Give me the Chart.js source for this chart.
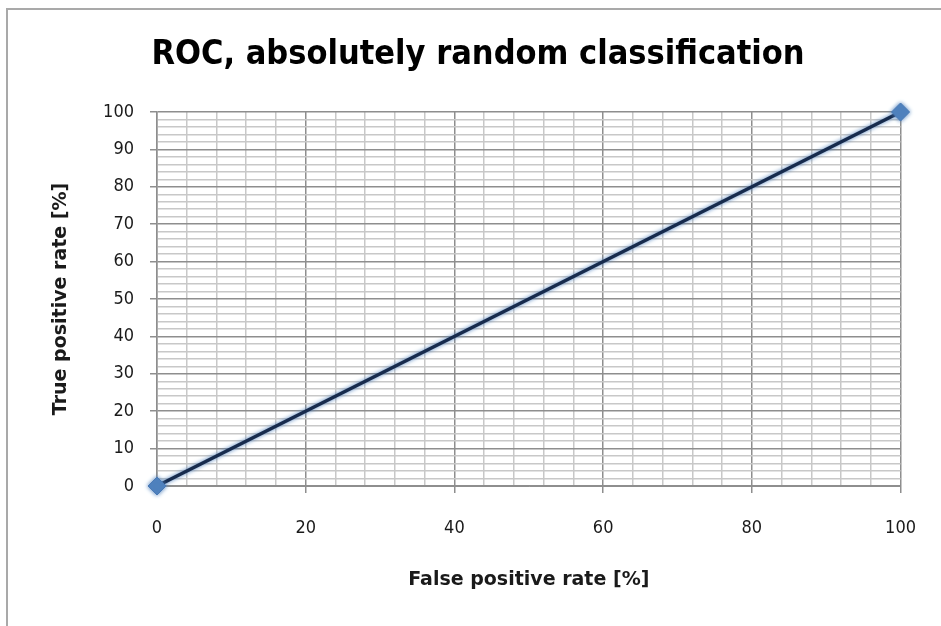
<!DOCTYPE html>
<html>
<head>
<meta charset="utf-8">
<title>ROC, absolutely random classification</title>
<script src="https://cdn.jsdelivr.net/npm/chart.js@4/dist/chart.umd.min.js"></script>
<style>
  html, body { margin: 0; padding: 0; background: #ffffff; }
  #wrap { position: relative; width: 941px; height: 626px; }
</style>
</head>
<body>
<div id="wrap"><canvas id="roc" width="941" height="626"></canvas></div>
<script>
// ROC curve of a classifier that guesses at random: the diagonal
const chartTitle = 'ROC, absolutely random classification';
const xAxisTitle = 'False positive rate [%]';
const yAxisTitle = 'True positive rate [%]';
const falsePositiveRate = [0, 100];
const truePositiveRate = [0, 100];
const xMajorStep = 20;   // labelled x ticks
const xMinorStep = 4;    // x grid lines
const yMajorStep = 10;   // labelled y ticks
const yMinorStep = 2;    // y grid lines

const points = falsePositiveRate.map((fpr, i) => ({ x: fpr, y: truePositiveRate[i] }));

const MAJOR = '#8e8e8e';
const MINOR = '#c8c8c8';
const TEXT = '#1a1a1a';
const CONDENSED = '"DejaVu Sans Condensed", "DejaVu Sans", sans-serif';
const WIDE = '"DejaVu Sans", sans-serif';

// frame of the chart object plus the title text
const framePlugin = {
  id: 'frame',
  beforeDraw(chart) {
    const ctx = chart.ctx;
    ctx.save();
    ctx.fillStyle = '#ffffff';
    ctx.fillRect(0, 0, chart.width, chart.height);
    ctx.strokeStyle = '#a9a9a9';
    ctx.lineWidth = 2;
    ctx.beginPath();
    ctx.moveTo(7, chart.height);
    ctx.lineTo(7, 9);
    ctx.lineTo(chart.width, 9);
    ctx.stroke();
    ctx.fillStyle = '#000000';
    ctx.font = 'bold 34px ' + CONDENSED;
    ctx.textAlign = 'center';
    ctx.textBaseline = 'middle';
    ctx.fillText(chartTitle, 478, 55);
    ctx.restore();
  }
};

// soft blue halo around the dark series line
const glowPlugin = {
  id: 'glow',
  beforeDatasetDraw(chart) {
    chart.ctx.save();
    chart.ctx.shadowColor = 'rgba(79,129,189,1)';
    chart.ctx.shadowBlur = 4;
  },
  afterDatasetDraw(chart) {
    chart.ctx.restore();
  }
};

new Chart(document.getElementById('roc'), {
  type: 'scatter',
  data: {
    datasets: [{
      data: points,
      showLine: true,
      borderColor: '#172b4d',
      borderWidth: 3.5,
      pointStyle: 'rectRot',
      pointRadius: 9,
      pointHoverRadius: 9,
      pointBackgroundColor: '#4f81bd',
      pointBorderColor: '#4a7ab5',
      pointBorderWidth: 1,
      clip: false
    }]
  },
  options: {
    responsive: false,
    animation: false,
    devicePixelRatio: 1,
    layout: { padding: { top: 112, right: 38, bottom: 0, left: 7 } },
    plugins: {
      legend: { display: false },
      tooltip: { enabled: false },
      title: { display: false }
    },
    scales: {
      x: {
        type: 'linear',
        min: 0,
        max: 100,
        afterFit(scale) { scale.height = 140; },
        border: { display: true, color: MAJOR, width: 1 },
        grid: {
          color: c => (c.tick && c.tick.value % xMajorStep === 0) ? MAJOR : MINOR,
          lineWidth: 1.5,
          tickLength: 7,
          tickColor: c => (c.tick && c.tick.value % xMajorStep === 0) ? MAJOR : 'rgba(0,0,0,0)'
        },
        ticks: {
          stepSize: xMinorStep,
          autoSkip: false,
          maxRotation: 0,
          padding: 25,
          color: TEXT,
          font: { family: CONDENSED, size: 18 },
          callback: v => (v % xMajorStep === 0 ? String(v) : '')
        },
        title: {
          display: true,
          text: xAxisTitle,
          color: TEXT,
          font: { family: WIDE, size: 19, weight: 'bold' },
          padding: { top: 0, bottom: 35 }
        }
      },
      y: {
        type: 'linear',
        min: 0,
        max: 100,
        afterFit(scale) { scale.width = 150; },
        border: { display: true, color: MAJOR, width: 1.5 },
        grid: {
          color: c => (c.tick && c.tick.value % yMajorStep === 0) ? MAJOR : MINOR,
          lineWidth: 1.5,
          tickLength: 7,
          tickColor: c => (c.tick && c.tick.value % yMajorStep === 0) ? MAJOR : 'rgba(0,0,0,0)'
        },
        ticks: {
          stepSize: yMinorStep,
          autoSkip: false,
          padding: 16,
          color: TEXT,
          font: { family: CONDENSED, size: 18 },
          callback: v => (v % yMajorStep === 0 ? String(v) : '')
        },
        title: {
          display: true,
          text: yAxisTitle,
          color: TEXT,
          font: { family: WIDE, size: 19, weight: 'bold' },
          padding: { top: 43, bottom: 0 }
        }
      }
    }
  },
  plugins: [framePlugin, glowPlugin]
});
</script>
</body>
</html>
